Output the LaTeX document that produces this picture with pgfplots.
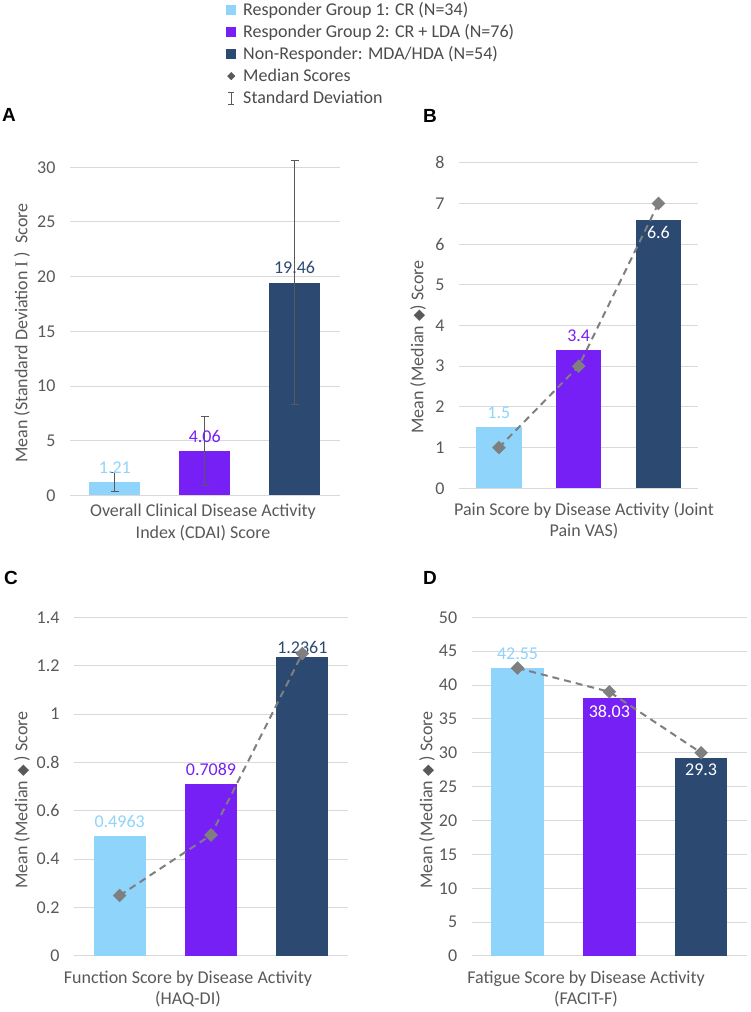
\documentclass[border=0pt]{standalone}
\usepackage{pgfplots}
\pgfplotsset{compat=1.18}
\usepackage{fontspec}
\setmainfont{Carlito}
\newfontfamily\dejavu{DejaVu Sans}
\newfontfamily\lserif{Liberation Serif}
\newfontfamily\arial{Liberation Sans}
\definecolor{lblue}{RGB}{143,212,250}
\definecolor{vpurple}{RGB}{119,32,245}
\definecolor{navy}{RGB}{44,73,114}
\definecolor{gridgray}{RGB}{217,217,217}
\definecolor{textgray}{RGB}{89,89,89}
\definecolor{legtext}{RGB}{75,75,75}
\definecolor{medgray}{RGB}{127,127,127}
\newcommand{\fs}{\fontsize{18}{21.6}\selectfont}
\pgfplotsset{
  panel/.style={
    scale only axis, anchor=south west, xmin=-0.5, xmax=2.5, ymin=0,
    xtick=\empty, axis line style={draw=none}, tick style={draw=none},
    ymajorgrids, major grid style={draw=gridgray, line width=1pt},
    yticklabel style={font=\fs, text=textgray, xshift=-11pt},
    clip=false,
    /pgf/number format/assume math mode=true,
  },
  bar/.style={ybar, bar shift=0pt, bar width=#1},
  barcol/.style={draw=none, fill=#1,
    legend image code/.code={\draw[##1,draw=none] (0pt,-5pt) rectangle (10pt,5pt);},
    every node near coord/.append style={font=\fs, text=#1}},
  above/.style={every node near coord/.append style={anchor=south, yshift=5pt}},
  inside/.style={every node near coord/.append style={anchor=north, yshift=-3pt, text=white}},
  medline/.style={sharp plot, color=medgray, line width=2pt, dash pattern=on 7pt off 5pt,
    mark=square*, mark size=3.8pt, mark options={solid, rotate=45, fill=medgray, draw=medgray}},
  medleg/.style={only marks, mark=square*, mark size=2.6pt,
    mark options={rotate=45, fill=textgray, draw=textgray},
    legend image code/.code={\draw[mark repeat=2,mark phase=2,##1] plot coordinates {(0pt,0pt)(5pt,0pt)(10pt,0pt)};}},
  sdleg/.style={legend image code/.code={
    \draw[textgray, line width=1.4pt] (5pt,-6pt) -- (5pt,6pt);
    \draw[textgray, line width=1.2pt] (2pt,-6pt) -- (8pt,-6pt) (2pt,6pt) -- (8pt,6pt);}},
  sderr/.style={error bars/.cd, y dir=both, y explicit,
    error bar style={draw=textgray, line width=1pt, solid},
    error mark options={draw=textgray, mark size=4pt, line width=1pt, rotate=90}},
}
\begin{document}
\begin{tikzpicture}[x=1pt,y=1pt]
\useasboundingbox (0,0) rectangle (750,1012);
% ---------------- Panel A
\begin{axis}[panel, at={(70pt,516.6pt)}, width=269.5pt, height=328.1pt,
  ymax=30, ytick={0,5,10,15,20,25,30},
  legend style={at={(axis description cs:0.579,1.507)}, anchor=north west,
    draw=none, fill=none, inner sep=0pt, font=\fs, text=legtext,
    nodes={inner sep=0pt, text height=14pt, text depth=4pt},
    row sep=4pt, column sep=7pt, cells={anchor=west}},
  legend cell align=left]
\addplot[bar=51pt, barcol=lblue, above, nodes near coords={1.21}, sderr]
  coordinates {(0,1.21) +- (0,0.88)};
\addlegendentry{Responder Group 1: CR (N=34)}
\addplot[bar=51pt, barcol=vpurple, above, nodes near coords={4.06}, sderr]
  coordinates {(1,4.06) +- (0,3.12)};
\addlegendentry{Responder Group 2: CR + LDA (N=76)}
\addplot[bar=51pt, barcol=navy, above, nodes near coords={19.46}, sderr]
  coordinates {(2,19.46) +- (0,11.15)};
\addlegendentry{Non-Responder: MDA/HDA (N=54)}
\addlegendimage{medleg}
\addlegendentry{Median Scores}
\addlegendimage{sdleg}
\addlegendentry{Standard Deviation}
\end{axis}
% ---------------- Panel B
\begin{axis}[panel, at={(459pt,523.7pt)}, width=239.3pt, height=325.6pt,
  ymax=8, ytick={0,1,2,3,4,5,6,7,8}]
\addplot[bar=45.5pt, barcol=lblue, above, nodes near coords={1.5}] coordinates {(0,1.5)};
\addplot[bar=45.5pt, barcol=vpurple, above, nodes near coords={3.4}] coordinates {(1,3.4)};
\addplot[bar=45.5pt, barcol=navy, inside, nodes near coords={6.6}] coordinates {(2,6.6)};
\addplot[medline] coordinates {(0,1) (1,3) (2,7)};
\end{axis}
% ---------------- Panel C
\begin{axis}[panel, at={(74pt,56pt)}, width=274pt, height=338.7pt,
  ymax=1.4, ytick={0,0.2,0.4,0.6,0.8,1,1.2,1.4}]
\addplot[bar=51.7pt, barcol=lblue, above, nodes near coords={0.4963}] coordinates {(0,0.4963)};
\addplot[bar=51.7pt, barcol=vpurple, above, nodes near coords={0.7089}] coordinates {(1,0.7089)};
\addplot[bar=51.7pt, barcol=navy, above, every node near coord/.append style={yshift=-5pt}, nodes near coords={1.2361}] coordinates {(2,1.2361)};
\addplot[medline] coordinates {(0,0.25) (1,0.5) (2,1.25)};
\end{axis}
% ---------------- Panel D
\begin{axis}[panel, at={(471.7pt,56pt)}, width=275.3pt, height=338.7pt,
  ymax=50, ytick={0,5,10,15,20,25,30,35,40,45,50}]
\addplot[bar=52.3pt, barcol=lblue, above, nodes near coords={42.55}] coordinates {(0,42.55)};
\addplot[bar=52.3pt, barcol=vpurple, inside, nodes near coords={38.03}] coordinates {(1,38.03)};
\addplot[bar=52.3pt, barcol=navy, inside, nodes near coords={29.3}] coordinates {(2,29.3)};
\addplot[medline] coordinates {(0,42.5) (1,39) (2,30)};
\end{axis}
% ---------------- labels
\node[rotate=90, font=\fs, text=textgray] at (22,679) {Mean (Standard Deviation {\lserif I} )\ \ Score};
\node[rotate=90, font=\fs, text=textgray] at (418,665) {Mean (Median {\dejavu\fontsize{15}{18}\selectfont ◆}) Score};
\node[rotate=90, font=\fs, text=textgray] at (22,212) {Mean (Median {\dejavu\fontsize{15}{18}\selectfont ◆} ) Score};
\node[rotate=90, font=\fs, text=textgray] at (427,212) {Mean (Median {\dejavu\fontsize{15}{18}\selectfont ◆} ) Score};
\node[font=\fs, text=textgray, align=center] at (203,489.5) {Overall Clinical Disease Activity\\Index (CDAI) Score};
\node[font=\fs, text=textgray, align=center] at (584,491.2) {Pain Score by Disease Activity (Joint\\Pain VAS)};
\node[font=\fs, text=textgray, align=center] at (188,23) {Function Score by Disease Activity\\(HAQ-DI)};
\node[font=\fs, text=textgray, align=center] at (586,23) {Fatigue Score by Disease Activity\\(FACIT-F)};
\node[font=\arial\bfseries\fontsize{19}{22}\selectfont] at (9,897) {A};
\node[font=\arial\bfseries\fontsize{19}{22}\selectfont] at (430,896) {B};
\node[font=\arial\bfseries\fontsize{19}{22}\selectfont] at (11,434) {C};
\node[font=\arial\bfseries\fontsize{19}{22}\selectfont] at (430,434) {D};
\end{tikzpicture}
\end{document}
